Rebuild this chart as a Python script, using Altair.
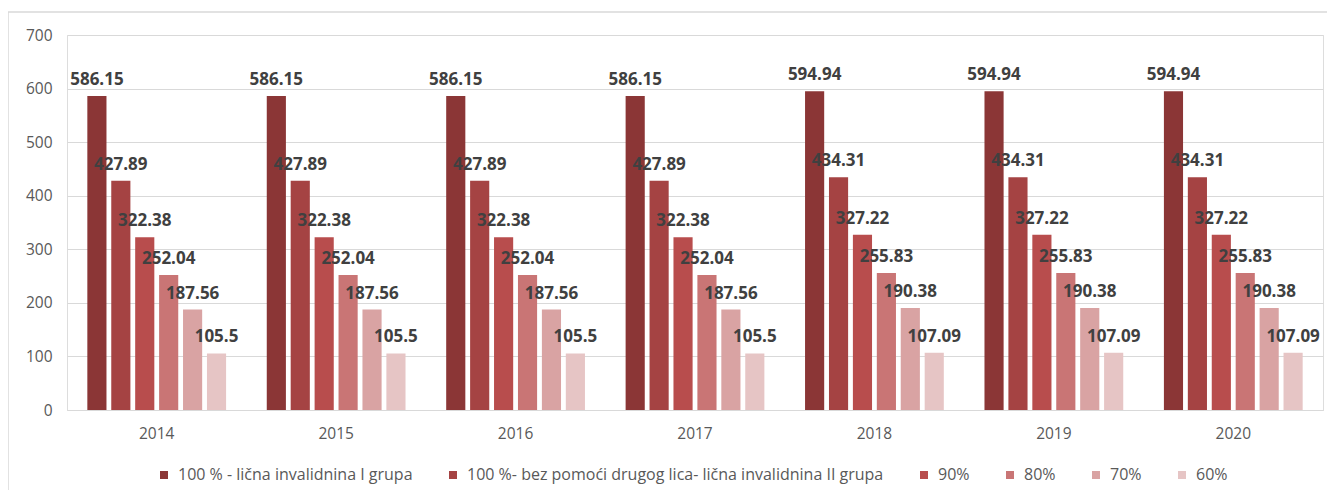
import altair as alt
import pandas as pd

years = ["2014", "2015", "2016", "2017", "2018", "2019", "2020"]
series = [
    "100 % - lična invalidnina I grupa",
    "100 %- bez pomoći drugog lica- lična invalidnina II grupa",
    "90%",
    "80%",
    "70%",
    "60%",
]
v100a = [586.15, 586.15, 586.15, 586.15, 594.94, 594.94, 594.94]
v100b = [427.89, 427.89, 427.89, 427.89, 434.31, 434.31, 434.31]
v90 = [322.38, 322.38, 322.38, 322.38, 327.22, 327.22, 327.22]
v80 = [252.04, 252.04, 252.04, 252.04, 255.83, 255.83, 255.83]
v70 = [187.56, 187.56, 187.56, 187.56, 190.38, 190.38, 190.38]
v60 = [105.5, 105.5, 105.5, 105.5, 107.09, 107.09, 107.09]
colors = ["#8B3636", "#A54343", "#B84D4D", "#C97575", "#D9A3A3", "#E6C5C5"]

rows = []
for s, vals in zip(series, [v100a, v100b, v90, v80, v70, v60]):
    for y, v in zip(years, vals):
        rows.append({"year": y, "series": s, "value": v, "label": f"{v:g}"})
df = pd.DataFrame(rows)

W, H = 1256, 375

x = alt.X("year:N", title=None, sort=years,
          scale=alt.Scale(paddingInner=0.2, paddingOuter=0.1),
          axis=alt.Axis(labelAngle=0, ticks=False, domainColor="#d9d9d9",
                        labelColor="#595959", labelFont="Open Sans",
                        labelFontSize=15.5, labelPadding=16))
xo = alt.XOffset("series:N", sort=series, scale=alt.Scale(paddingInner=0.2, paddingOuter=0.1))
y = alt.Y("value:Q", title=None,
          scale=alt.Scale(domain=[0, 700]),
          axis=alt.Axis(values=[0, 100, 200, 300, 400, 500, 600, 700],
                        domain=False, ticks=False, gridColor="#d9d9d9",
                        labelColor="#595959", labelFont="Open Sans",
                        labelFontSize=15.5, labelPadding=15))

bars = alt.Chart(df).mark_bar().encode(
    x=x, xOffset=xo, y=y,
    color=alt.Color("series:N", sort=series,
                    scale=alt.Scale(domain=series, range=colors),
                    legend=alt.Legend(title=None, orient="none", direction="horizontal",
                                      legendX=89, legendY=432, columns=6,
                                      symbolType="square", symbolSize=64,
                                      symbolStrokeWidth=0, columnPadding=32,
                                      labelFont="Open Sans", labelFontSize=16,
                                      labelColor="#595959", labelOffset=6,
                                      labelLimit=600)),
)

labels = alt.Chart(df).mark_text(
    baseline="bottom", dy=-7, font="Open Sans", fontWeight="bold",
    fontSize=17, color="#404040"
).encode(x=x, xOffset=xo, y=y, text="label:N")

frame = alt.Chart(pd.DataFrame({"a": [0]})).mark_rect(
    fill=None, stroke="#d9d9d9", strokeWidth=1.5
).encode(x=alt.value(-59), x2=alt.value(W + 100), y=alt.value(-23), y2=alt.value(H + 200))

chart = alt.layer(frame, bars, labels).properties(
    width=W, height=H,
    autosize=alt.AutoSizeParams(type="none"),
    padding={"left": 59, "top": 27, "right": 4, "bottom": 80},
).configure_view(stroke=None).configure(background="white")

chart.save("out.html", embed_options={"renderer": "svg", "actions": False})
